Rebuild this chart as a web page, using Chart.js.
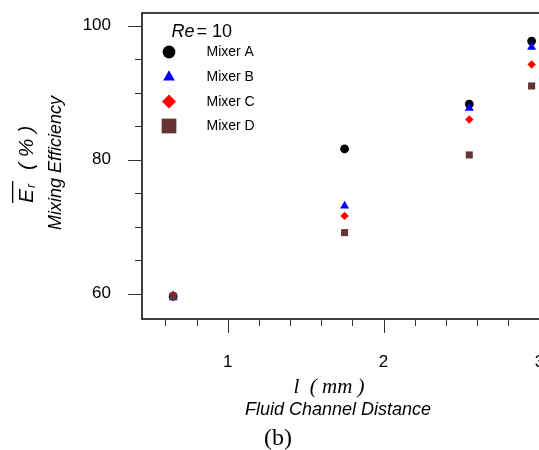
<!DOCTYPE html>
<html>
<head>
<meta charset="utf-8">
<script src="https://cdn.jsdelivr.net/npm/chart.js@4.4.0/dist/chart.umd.min.js"></script>
<style>
html, body { margin: 0; padding: 0; overflow: hidden; background: #fff; }
canvas { display: block; }
</style>
</head>
<body>
<canvas id="chart" width="600" height="450"></canvas>
<script>
// channel distance l (mm) and mixing efficiency (%) per mixer, Re = 10
const distances = [0.65, 1.75, 2.55, 2.95]
const mixerA = [59.6, 81.6, 88.3, 97.7]
const mixerB = [59.4, 73.1, 87.7, 96.8]
const mixerC = [59.8, 71.6, 86.0, 94.2]
const mixerD = [59.6, 69.1, 80.7, 91.0]
const mixerNames = ['Mixer A', 'Mixer B', 'Mixer C', 'Mixer D']
const xTickLabels = [1, 2, 3]
const yTickLabels = [60, 80, 100]

const sans = "'Liberation Sans', Arial, sans-serif"
const serif = "'Liberation Serif', 'Times New Roman', serif"

const toPoints = vals => vals.map((v, i) => ({x: distances[i], y: v}))

// marker look, kept apart from the data
const looks = [
    {color: '#000000', style: 'circle', r: 4.4, legendR: 6.4},
    {color: '#0000ff', style: 'triangle', r: 5.2, legendR: 6.8},
    {color: '#ff0000', style: 'rectRot', r: 4.2, legendR: 7},
    {color: '#663333', style: 'rect', r: 5, legendR: 10.4}
]
const series = [mixerA, mixerB, mixerC, mixerD]

const datasets = series.map((vals, i) => ({
    label: mixerNames[i],
    data: toPoints(vals),
    backgroundColor: looks[i].color,
    borderColor: looks[i].color,
    pointStyle: looks[i].style,
    pointRadius: looks[i].r,
    pointBorderWidth: 0,
    showLine: false,
    order: 4 - i
}))

function marker(ctx, look, r, x, y) {
    ctx.fillStyle = look.color
    if (Chart.helpers && Chart.helpers.drawPoint) {
        Chart.helpers.drawPoint(ctx, {pointStyle: look.style, radius: r, rotation: 0, borderWidth: 0}, x, y)
    } else {
        ctx.beginPath(); ctx.arc(x, y, r, 0, Math.PI * 2); ctx.fill()
    }
}

// fixed box sizes so the plot area lands where the figure has it
function fitTo(prop, size) {
    return s => {
        s[prop] = size
        s.paddingTop = 0; s.paddingBottom = 0; s.paddingLeft = 0; s.paddingRight = 0
    }
}

const decor = {
    id: 'decor',
    afterDraw(chart) {
        const ctx = chart.ctx
        const a = chart.chartArea
        const xs = chart.scales.x, ys = chart.scales.y
        ctx.save()

        // frame
        ctx.strokeStyle = '#000'
        ctx.lineWidth = 1.5
        ctx.strokeRect(a.left, a.top, a.right - a.left, a.bottom - a.top)

        // outside ticks, long at labelled values
        ctx.strokeStyle = '#333'
        ctx.lineWidth = 1
        for (let v = 60; v <= 100; v += 5) {
            const py = Math.round(ys.getPixelForValue(v)) + 0.5
            const len = yTickLabels.includes(v) ? 14 : 7
            ctx.beginPath(); ctx.moveTo(a.left - len, py); ctx.lineTo(a.left - 0.75, py); ctx.stroke()
        }
        for (let k = 3; k <= 15; k++) {
            const v = k / 5
            const px = Math.round(xs.getPixelForValue(v)) + 0.5
            const len = xTickLabels.includes(v) ? 14 : 7
            ctx.beginPath(); ctx.moveTo(px, a.bottom + 0.75); ctx.lineTo(px, a.bottom + len); ctx.stroke()
        }

        // legend
        ctx.fillStyle = '#000'
        ctx.textBaseline = 'alphabetic'
        ctx.textAlign = 'left'
        ctx.font = 'italic 18px ' + sans
        ctx.fillText('Re', 171.5, 37)
        ctx.font = '18px ' + sans
        ctx.fillText('= 10', 196.5, 37)
        const rows = [52, 77, 101.5, 126]
        mixerNames.forEach((name, i) => {
            marker(ctx, looks[i], looks[i].legendR, 169, rows[i])
            ctx.fillStyle = '#000'
            ctx.font = '14px ' + sans
            ctx.textBaseline = 'middle'
            ctx.fillText(name, 206.5, rows[i] + 0.5)
        })

        // y titles
        ctx.textBaseline = 'alphabetic'
        ctx.save()
        ctx.translate(61, 163)
        ctx.rotate(-Math.PI / 2)
        ctx.textAlign = 'center'
        ctx.font = 'italic 18px ' + sans
        ctx.fillText('Mixing Efficiency', 0, 0)
        ctx.restore()

        ctx.save()
        ctx.translate(33, 203)
        ctx.rotate(-Math.PI / 2)
        ctx.textAlign = 'left'
        ctx.font = 'italic 21px ' + sans
        ctx.fillText('E', 0, 0)
        const ew = ctx.measureText('E').width
        ctx.font = 'italic 12px ' + sans
        ctx.fillText('r', ew + 1, 2)
        const rw = ctx.measureText('r').width
        ctx.fillRect(0, -21, ew + rw + 4, 1.3)
        ctx.font = 'italic 21px ' + sans
        ctx.fillText('( % )', 33, 0)
        ctx.restore()

        // x titles
        ctx.textAlign = 'center'
        ctx.font = 'italic 21px ' + serif
        ctx.fillText('l  ( mm )', 329, 393)
        ctx.font = 'italic 18px ' + sans
        ctx.fillText('Fluid Channel Distance', 338, 415)
        ctx.font = '24px ' + serif
        ctx.fillText('(b)', 278, 445)

        ctx.restore()
    }
}

new Chart(document.getElementById('chart'), {
    type: 'scatter',
    data: { datasets: datasets },
    options: {
        responsive: false,
        animation: false,
        layout: { padding: { top: 13, right: 45, left: 0, bottom: 0 } },
        plugins: { legend: { display: false }, tooltip: { enabled: false } },
        scales: {
            x: {
                type: 'linear',
                position: 'bottom',
                min: 0.45,
                max: 3.1,
                afterBuildTicks: s => { s.ticks = xTickLabels.map(v => ({value: v})) },
                afterFit: fitTo('height', 131),
                grid: { display: false, drawTicks: false },
                border: { display: false },
                ticks: { padding: 33, color: '#000', autoSkip: false, maxRotation: 0,
                         font: { family: sans, size: 17 } }
            },
            y: {
                type: 'linear',
                position: 'left',
                min: 56.2,
                max: 101.9,
                afterBuildTicks: s => { s.ticks = yTickLabels.map(v => ({value: v})) },
                afterFit: fitTo('width', 142),
                grid: { display: false, drawTicks: false },
                border: { display: false },
                ticks: { padding: 31, color: '#000', font: { family: sans, size: 17 } }
            }
        }
    },
    plugins: [decor]
})
</script>
</body>
</html>
